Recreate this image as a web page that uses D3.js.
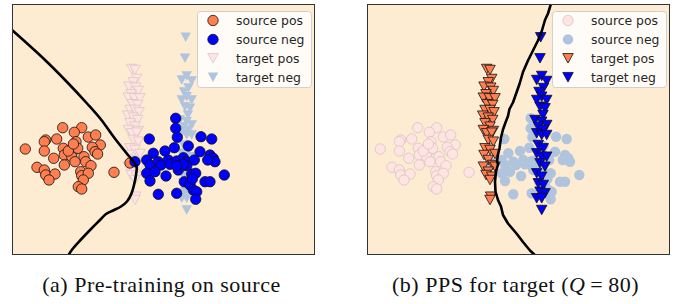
<!DOCTYPE html>
<html>
<head>
<meta charset="utf-8">
<script src="https://cdn.jsdelivr.net/npm/d3@7"></script>
<style>
  body { margin: 0; background: #fff; }
  svg { display: block; }
</style>
</head>
<body>
<svg id="chart" width="689" height="304"></svg>
<script>
// embedding coords, same points in both panels (only colours change)
const sourcePos = [
  [1.33, 10.6], [5.07, 12.73], [6.97, 12.73], [6.23, 12.27], [3.37, 11.5], [3.23, 11.33],
  [4.47, 11.6], [3.23, 10.4], [6.4, 11.33], [7.63, 11.8], [8.37, 12.0], [8.83, 11.0],
  [8.03, 10.77], [8.3, 10.33], [5.13, 10.67], [6.23, 10.5], [6.57, 10.67], [5.23, 10.0],
  [4.17, 9.67], [5.97, 9.83], [6.3, 9.33], [5.23, 9.0], [7.2, 9.83], [7.37, 9.33],
  [7.9, 8.93], [2.5, 8.77], [3.23, 8.5], [3.63, 7.83], [3.37, 8.0], [4.3, 8.1],
  [6.87, 8.33], [6.97, 7.93], [7.63, 8.17], [7.13, 7.5], [6.63, 6.83], [6.97, 6.6],
  [10.2, 8.27], [5.63, 10.4], [11.8, 9.2], [6.14, 11.1], [8.56, 10.1], [3.7, 7.5]
]
const sourceNeg = [
  [16.37, 13.67], [16.37, 12.67], [16.53, 11.77], [13.73, 11.6], [18.9, 11.83], [19.97, 11.6],
  [12.3, 9.33], [14.13, 10.17], [15.3, 10.4], [16.23, 10.73], [17.63, 10.9], [18.8, 10.33],
  [19.8, 10.0], [20.13, 9.67], [20.3, 9.33], [19.57, 9.5], [13.47, 9.5], [13.8, 9.0],
  [14.63, 9.33], [14.9, 9.0], [15.63, 9.5], [15.8, 9.07], [16.47, 9.4], [17.13, 9.73],
  [17.47, 9.33], [18.23, 9.5], [16.63, 8.5], [17.47, 8.93], [13.47, 8.17], [14.3, 8.33],
  [15.4, 7.9], [17.97, 8.1], [18.37, 8.17], [13.8, 7.4], [17.23, 7.33], [17.8, 7.0],
  [18.03, 7.6], [19.3, 7.33], [19.8, 7.33], [21.23, 8.0], [14.63, 6.07], [16.47, 6.17],
  [18.13, 6.5], [18.47, 6.33], [18.37, 5.57], [17.13, 9.07], [16.47, 8.93]
]
const targetPos = [
  [11.97, 18.6], [12.3, 18.5], [12.47, 17.6], [12.13, 17.27], [11.7, 16.83], [12.37, 16.73],
  [12.63, 16.4], [11.9, 16.07], [11.63, 15.73], [12.23, 15.67], [12.8, 15.67], [12.03, 15.07],
  [12.57, 15.0], [11.8, 14.5], [12.3, 14.5], [12.7, 14.27], [11.57, 13.93], [12.13, 13.73],
  [12.57, 13.5], [11.8, 13.17], [12.3, 12.83], [11.63, 12.5], [12.63, 12.4], [11.97, 12.17],
  [12.47, 12.23], [12.13, 11.5], [12.63, 11.33], [11.8, 10.67], [12.3, 10.5], [11.7, 10.0],
  [12.8, 10.1], [12.13, 9.5], [12.57, 9.0], [11.63, 8.83], [12.8, 8.83], [12.13, 8.33],
  [11.9, 8.0], [12.47, 7.83], [12.3, 7.5], [12.37, 5.83], [12.3, 5.5]
]
const targetNeg = [
  [17.37, 21.77], [17.3, 19.67], [16.97, 17.5], [17.47, 17.9], [17.97, 17.4], [17.65, 16.7],
  [17.2, 16.3], [17.47, 15.83], [16.97, 15.5], [17.97, 15.5], [17.3, 14.83], [17.8, 14.67],
  [17.6, 14.0], [16.8, 13.5], [17.47, 13.33], [17.97, 13.0], [17.13, 12.83], [17.63, 12.5],
  [16.97, 12.17], [17.47, 12.0], [17.97, 12.0], [17.13, 11.0], [17.63, 10.67], [16.97, 10.17],
  [17.47, 9.83], [17.97, 9.83], [17.3, 9.17], [17.8, 8.83], [16.97, 8.17], [17.47, 7.83],
  [17.13, 7.17], [17.63, 7.0], [17.3, 6.33], [17.8, 6.17], [16.97, 5.67], [17.47, 5.67],
  [17.47, 4.5]
]

// decision boundaries
const boundaryPre = [
  [0, 22.5], [3.2, 19.6], [5.5, 17.3], [7.55, 15.1], [8.9, 13.55], [10.25, 11.7],
  [11.6, 10.0], [12.1, 9.4], [12.45, 8.85], [12.4, 8.0], [12.2, 7.0], [11.95, 6.15],
  [11.5, 5.35], [10.9, 4.85], [10.1, 4.45], [9.4, 4.1], [8.75, 3.45], [7.9, 2.6],
  [6.9, 1.55], [6.05, 0.6], [5.5, -0.25]
]
const boundaryPPS = [
  [18.45, 25.3], [18.1, 24.15], [17.8, 23.5], [17.45, 22.3], [17.1, 21.45], [16.6, 20.45],
  [16.1, 19.45], [15.6, 18.3], [15.25, 17.1], [14.95, 16.25], [14.6, 15.25], [14.25, 14.6],
  [14.1, 13.9], [13.85, 13.25], [13.6, 12.55], [13.4, 11.75], [13.25, 10.7], [13.1, 10.05],
  [13.0, 9.4], [13.1, 9.05], [12.9, 8.35], [12.8, 7.35], [12.85, 6.35], [13.1, 5.5],
  [13.4, 4.85], [13.6, 4.0], [14.1, 3.15], [14.95, 2.15], [15.6, 1.3], [16.3, 0.45],
  [17.0, -0.2]
]

const xExtent = [0, 30.3]
const yExtent = [0, 25.1]
const legendLabels = ["source pos", "source neg", "target pos", "target neg"]
const captionA = "(a) Pre-training on source"
const captionB = ["(b) PPS for target (", "Q", " = 80)"]

const CORAL = "#ff7f50", BLUE = "#0000ff", PINK = "#ffe4e1", STEEL = "#b0c4de"

const svg = d3.select("#chart")

const triangle = (w, h) => `M0,${h / 2}L${-w / 2},${-h / 2}L${w / 2},${-h / 2}Z`

const drawMarker = (sel, shape, st) => {
  let m
  if (shape === "circle") {
    m = sel.append("circle").attr("r", 5.2)
  } else {
    m = sel.append("path").attr("d", triangle(10.5, 9.5))
  }
  m.attr("fill", st.fill)
    .attr("stroke", st.stroke)
    .attr("stroke-width", 0.8)
  return m
}

const drawPanel = (id, box, styles, order, boundary, curve) => {
  const x = d3.scaleLinear().domain(xExtent).range([box.x, box.x + box.w])
  const y = d3.scaleLinear().domain(yExtent).range([box.y + box.h, box.y])

  const g = svg.append("g")
  g.append("clipPath").attr("id", id).append("rect")
    .attr("x", box.x).attr("y", box.y).attr("width", box.w).attr("height", box.h)

  g.append("rect")
    .attr("x", box.x).attr("y", box.y).attr("width", box.w).attr("height", box.h)
    .attr("fill", "#fdecd2")

  const inner = g.append("g").attr("clip-path", `url(#${id})`)

  const sets = { sourcePos, sourceNeg, targetPos, targetNeg }
  order.forEach(key => {
    const st = styles[key]
    inner.append("g").selectAll("g")
      .data(sets[key])
      .enter().append("g")
      .attr("transform", d => `translate(${x(d[0])},${y(d[1])})`)
      .each(function () { drawMarker(d3.select(this), st.shape, st) })
  })

  inner.append("path")
    .datum(boundary)
    .attr("fill", "none")
    .attr("stroke", "#000")
    .attr("stroke-width", 2.6)
    .attr("stroke-linejoin", "round")
    .attr("d", d3.line().x(d => x(d[0])).y(d => y(d[1])).curve(curve))

  g.append("rect")
    .attr("x", box.x + 0.5).attr("y", box.y + 0.5).attr("width", box.w - 1).attr("height", box.h - 1)
    .attr("fill", "none").attr("stroke", "#333").attr("stroke-width", 1)

  // legend, upper right
  const lw = 114, lh = 76
  const lx = box.x + box.w - lw - 4, ly = box.y + 7
  const lg = g.append("g")
  lg.append("rect")
    .attr("x", lx + 0.5).attr("y", ly + 0.5).attr("width", lw).attr("height", lh)
    .attr("rx", 3)
    .attr("fill", "#fff").attr("fill-opacity", 0.85)
    .attr("stroke", "#d0d0d0").attr("stroke-width", 1)

  const keys = ["sourcePos", "sourceNeg", "targetPos", "targetNeg"]
  keys.forEach((k, i) => {
    const cy = ly + 9.5 + i * 18.9
    const mg = lg.append("g").attr("transform", `translate(${lx + 16},${cy})`)
    drawMarker(mg, styles[k].shape, styles[k])
    lg.append("text")
      .attr("x", lx + 39).attr("y", cy + 4.5)
      .attr("font-family", "DejaVu Sans, sans-serif")
      .attr("font-size", 12.4)
      .attr("fill", "#262626")
      .text(legendLabels[i])
  })
}

const leftBox = { x: 12, y: 4, w: 303, h: 251 }
const rightBox = { x: 367, y: 4, w: 303, h: 251 }

drawPanel("clipA", leftBox, {
  sourcePos: { shape: "circle", fill: CORAL, stroke: "#111" },
  sourceNeg: { shape: "circle", fill: BLUE, stroke: "#111" },
  targetPos: { shape: "tri", fill: PINK, stroke: "#dcc6c6" },
  targetNeg: { shape: "tri", fill: STEEL, stroke: "none" }
}, ["targetPos", "targetNeg", "sourcePos", "sourceNeg"], boundaryPre, d3.curveCatmullRom)

drawPanel("clipB", rightBox, {
  sourcePos: { shape: "circle", fill: PINK, stroke: "#d4c4c4" },
  sourceNeg: { shape: "circle", fill: STEEL, stroke: "none" },
  targetPos: { shape: "tri", fill: CORAL, stroke: "#111" },
  targetNeg: { shape: "tri", fill: BLUE, stroke: "#111" }
}, ["sourcePos", "sourceNeg", "targetPos", "targetNeg"], boundaryPPS, d3.curveLinear)

// captions
const capFont = "'Liberation Serif', 'DejaVu Serif', serif"
svg.append("text")
  .attr("x", leftBox.x + leftBox.w / 2 - 2).attr("y", 292)
  .attr("text-anchor", "middle")
  .attr("font-family", capFont).attr("font-size", 22)
  .attr("letter-spacing", 0.5)
  .attr("fill", "#111")
  .text(captionA)

const capB = svg.append("text")
  .attr("x", rightBox.x + rightBox.w / 2 - 3).attr("y", 292)
  .attr("text-anchor", "middle")
  .attr("font-family", capFont).attr("font-size", 22)
  .attr("letter-spacing", 0.5)
  .attr("fill", "#111")
capB.append("tspan").text(captionB[0])
capB.append("tspan").attr("font-style", "italic").text(captionB[1])
capB.append("tspan").attr("xml:space", "preserve").text(captionB[2].replace(" = ", "\u2009=\u2009"))
</script>
</body>
</html>
